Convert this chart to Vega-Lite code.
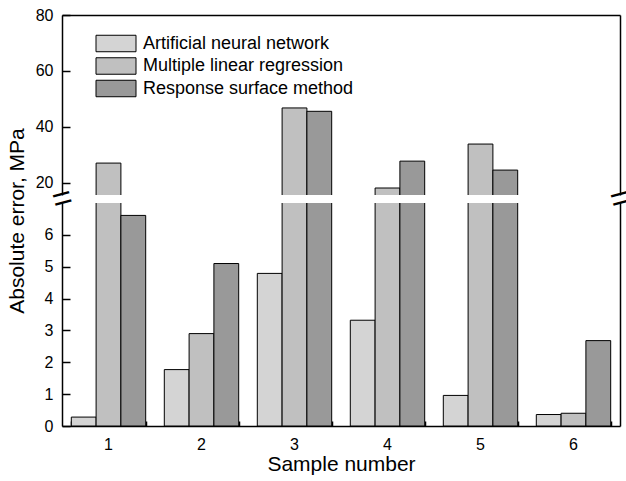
{
  "$schema": "https://vega.github.io/schema/vega-lite/v6.json",
  "autosize": {"type": "pad"},
  "padding": {"left": 5, "top": 7, "right": 0, "bottom": 0},
  "bounds": "flush",
  "spacing": 8,
  "config": {
    "font": "Liberation Sans",
    "view": {"stroke": null},
    "axis": {
      "labelFont": "Liberation Sans", "titleFont": "Liberation Sans",
      "labelColor": "black", "titleColor": "black",
      "domainColor": "black", "tickColor": "black",
      "labelFontSize": 16, "titleFontSize": 21, "titleFontWeight": "normal",
      "grid": false, "domainWidth": 1.5, "tickWidth": 1.5, "labelFlush": false, "labelOverlap": false
    }
  },
  "data": {
    "values": [
      {"sample": 1, "model": "Artificial neural network", "value": 0.28},
      {"sample": 1, "model": "Multiple linear regression", "value": 27.1},
      {"sample": 1, "model": "Response surface method", "value": 6.61},
      {"sample": 2, "model": "Artificial neural network", "value": 1.77},
      {"sample": 2, "model": "Multiple linear regression", "value": 2.9},
      {"sample": 2, "model": "Response surface method", "value": 5.1},
      {"sample": 3, "model": "Artificial neural network", "value": 4.79},
      {"sample": 3, "model": "Multiple linear regression", "value": 46.8},
      {"sample": 3, "model": "Response surface method", "value": 45.6},
      {"sample": 4, "model": "Artificial neural network", "value": 3.32},
      {"sample": 4, "model": "Multiple linear regression", "value": 18.2},
      {"sample": 4, "model": "Response surface method", "value": 27.8},
      {"sample": 5, "model": "Artificial neural network", "value": 0.96},
      {"sample": 5, "model": "Multiple linear regression", "value": 33.9},
      {"sample": 5, "model": "Response surface method", "value": 24.6},
      {"sample": 6, "model": "Artificial neural network", "value": 0.36},
      {"sample": 6, "model": "Multiple linear regression", "value": 0.4},
      {"sample": 6, "model": "Response surface method", "value": 2.68}
    ]
  },
  "resolve": {"legend": {"color": "independent"}},
  "vconcat": [
    {
      "width": 558, "height": 180,
      "transform": [{"filter": "datum.value > 15.7"}],
      "layer": [
        {
          "mark": {"type": "bar", "stroke": "black", "strokeWidth": 1, "clip": true},
          "encoding": {
            "x": {"field": "sample", "type": "ordinal", "scale": {"domain": [1,2,3,4,5,6], "paddingInner": 0.2, "paddingOuter": 0.1}, "axis": null},
            "xOffset": {"field": "model", "type": "nominal", "scale": {"domain": ["Artificial neural network", "Multiple linear regression", "Response surface method"], "paddingInner": 0, "paddingOuter": 0}},
            "y": {"field": "value", "type": "quantitative", "scale": {"domain": [14.628, 80], "range": [183, 0], "clamp": true, "nice": false, "zero": false},
                  "axis": {"orient": "left", "values": [20, 40, 60, 80], "tickSize": -8, "labelPadding": 17, "title": null, "domainDash": [180, 3], "domainDashOffset": 180}},
            "color": {"field": "model", "type": "nominal",
              "scale": {"domain": ["Artificial neural network", "Multiple linear regression", "Response surface method"], "range": ["#d4d4d4", "#c0c0c0", "#999999"]},
              "legend": {"orient": "none", "legendX": 45, "legendY": 19.5, "title": null, "padding": 0, "labelLimit": 400,
                "symbolType": "M-2.5,-1.03H2.5V1.03H-2.5Z", "symbolSize": 256, "symbolStrokeColor": "black", "symbolStrokeWidth": 1, "symbolOpacity": 1,
                "labelFontSize": 18, "labelFont": "Liberation Sans", "labelColor": "black", "labelOffset": 18, "rowPadding": 0.5}}
          }
        },
        {
          "mark": {"type": "bar", "opacity": 0},
          "encoding": {
            "x": {"field": "sample", "type": "ordinal", "axis": {"orient": "top", "labels": false, "ticks": false, "title": null, "domain": true}},
            "y": {"field": "value", "type": "quantitative", "axis": {"orient": "right", "labels": false, "ticks": false, "title": null, "domain": true, "domainDash": [180, 3], "domainDashOffset": 180}}
          }
        }
      ],
      "resolve": {"axis": {"x": "independent", "y": "independent"}}
    },
    {
      "width": 558, "height": 223,
      "layer": [
        {
          "mark": {"type": "bar", "stroke": "black", "strokeWidth": 1, "clip": true},
          "encoding": {
            "x": {"field": "sample", "type": "ordinal", "scale": {"domain": [1,2,3,4,5,6], "paddingInner": 0.2, "paddingOuter": 0.1},
                  "axis": {"orient": "bottom", "labelAngle": 0, "tickSize": -7, "labelPadding": 17.5, "title": "Sample number", "titlePadding": 1}},
            "xOffset": {"field": "model", "type": "nominal", "scale": {"domain": ["Artificial neural network", "Multiple linear regression", "Response surface method"], "paddingInner": 0, "paddingOuter": 0}},
            "y": {"field": "value", "type": "quantitative", "scale": {"domain": [0, 7.1], "range": [223, -3.2], "clamp": true, "nice": false},
                  "axis": {"orient": "left", "values": [0, 1, 2, 3, 4, 5, 6], "tickSize": -8, "labelPadding": 17, "domainDash": [223, 20],
                           "title": "Absolute error, MPa", "titleX": -39, "titleY": 17.5, "titleAngle": 270, "titleAlign": "center", "titleBaseline": "alphabetic"}},
            "color": {"field": "model", "type": "nominal",
              "scale": {"domain": ["Artificial neural network", "Multiple linear regression", "Response surface method"], "range": ["#d4d4d4", "#c0c0c0", "#999999"]},
              "legend": null}
          }
        },
        {
          "mark": {"type": "bar", "opacity": 0},
          "encoding": {
            "x": {"field": "sample", "type": "ordinal", "axis": {"orient": "bottom", "tickBand": "extent", "tickSize": -5, "labels": false, "domain": false, "title": null}},
            "y": {"field": "value", "type": "quantitative", "axis": {"orient": "right", "domain": true, "domainDash": [223, 20], "ticks": false, "values": [7], "labelExpr": "'='", "labelFontSize": 34, "labelAngle": -15, "labelAlign": "center", "labelBaseline": "middle", "labelPadding": 0, "labelOffset": -4, "title": null}}
          }
        },
        {
          "mark": {"type": "bar", "opacity": 0},
          "encoding": {
            "x": {"field": "sample", "type": "ordinal", "axis": null},
            "y": {"field": "value", "type": "quantitative", "axis": {"orient": "left", "domain": false, "ticks": false, "values": [7], "labelExpr": "'='", "labelFontSize": 34, "labelAngle": -15, "labelAlign": "center", "labelBaseline": "middle", "labelPadding": 0, "labelOffset": -4, "title": null}}
          }
        }
      ],
      "resolve": {"axis": {"x": "independent", "y": "independent"}}
    }
  ]
}
